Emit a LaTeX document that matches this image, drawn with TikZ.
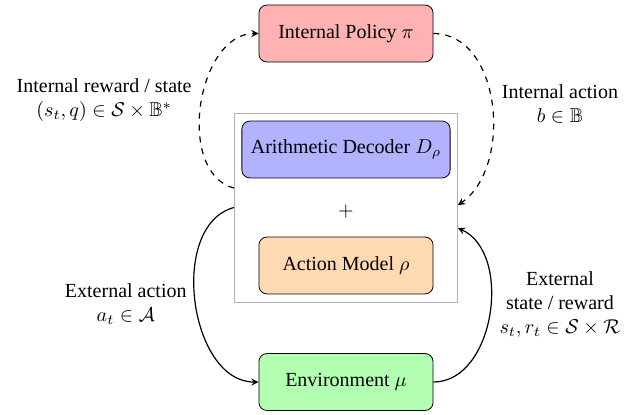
\documentclass[tikz,border=0pt]{standalone}
\usepackage{amsmath}
\usepackage{amssymb}
\usepackage[no-math]{fontspec}
\setmainfont{Liberation Serif}
\usetikzlibrary{arrows}

\tikzset{
  block/.style={draw,rounded corners,minimum width=3.06cm,minimum height=1cm},
  conn/.style={->,>=stealth,semithick},
}

\begin{document}
\begin{tikzpicture}
  \useasboundingbox (-6.08,0) rectangle (5.096,7.275);
  \node[block,fill=red!30] (policy) at (0,6.686) {Internal Policy $\pi$};
  \node[draw=gray!60,minimum width=3.92cm,minimum height=3.32cm] (agent) at (0,3.629) {};
  \node[block,fill=blue!30,minimum width=3.66cm] (decoder) at (0,4.648) {Arithmetic Decoder $D_\rho$};
  \node (plus) at (0,3.567) {$+$};
  \node[block,fill=orange!30] (model) at (0,2.610) {Action Model $\rho$};
  \node[block,fill=green!30] (env) at (0,0.562) {Environment $\mu$};

  \node[align=center] (intstate) at (-4.25,5.52) {Internal reward / state\\$(s_t,q)\in\mathcal{S}\times\mathbb{B}^*$};
  \node[align=center] (intaction) at (3.76,5.45) {Internal action\\$b\in\mathbb{B}$};
  \node[align=center] (extaction) at (-3.87,1.94) {External action\\$a_t\in\mathcal{A}$};
  \node[align=center] (extstate) at (3.76,1.93) {External\\state / reward\\$s_t,r_t\in\mathcal{S}\times\mathcal{R}$};

  \draw[conn,dashed] ([yshift=0.34cm]agent.west) to[out=165,in=180] (policy.west);
  \draw[conn,dashed] (policy.east) to[out=0,in=35] ([yshift=0.04cm]agent.east);
  \draw[conn] (agent.west) to[out=195,in=180] (env.west);
  \draw[conn] (env.east) to[out=0,in=-25] ([yshift=-0.36cm]agent.east);
\end{tikzpicture}
\end{document}
